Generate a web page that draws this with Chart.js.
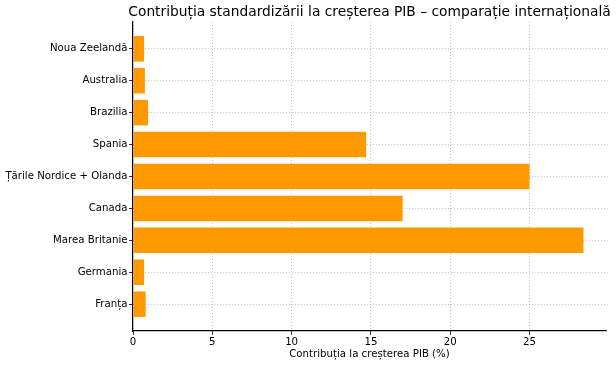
<!DOCTYPE html>
<html>
<head>
<meta charset="utf-8">
<script src="https://cdn.jsdelivr.net/npm/chart.js@4.4.1/dist/chart.umd.min.js"></script>
<style>
  html, body { margin: 0; padding: 0; background: #fff; }
  #wrap { width: 616px; height: 365px; }
</style>
</head>
<body>
<div id="wrap"><canvas id="chart" width="616" height="365"></canvas></div>
<script>
// Données (de bas en haut, comme dans barh)
const tari = ['Franța', 'Germania', 'Marea Britanie', 'Canada', 'Țările Nordice + Olanda', 'Spania', 'Brazilia', 'Australia', 'Noua Zeelandă'];
const contributii = [0.8, 0.7, 28.4, 17.0, 25.0, 14.7, 0.95, 0.75, 0.7];
const xTicks = [0, 5, 10, 15, 20, 25];

const titlu = 'Contribuția standardizării la creșterea PIB – comparație internațională';
const titluAx = 'Contribuția la creșterea PIB (%)';
const FONT = 'DejaVu Sans';
const FS = 10.2;

// titre centré sur la zone du graphique (comme matplotlib)
const titlePlugin = {
    id: 'axTitle',
    afterDraw(chart) {
        const { ctx, chartArea } = chart;
        ctx.save();
        ctx.font = '13.8px "' + FONT + '"';
        ctx.fillStyle = '#000';
        ctx.textAlign = 'center';
        ctx.textBaseline = 'middle';
        ctx.fillText(titlu, (chartArea.left + chartArea.right) / 2, 12);
        ctx.restore();
    }
};

const grila = { color: 'rgba(160,160,160,0.8)', tickColor: '#000', tickLength: 4, lineWidth: 0.8, offset: false };
const bordura = { color: '#000', width: 1.2, dash: [1, 2] };

const ctx = document.getElementById('chart').getContext('2d');
new Chart(ctx, {
    type: 'bar',
    data: {
        datasets: [{
            data: contributii.map((v, i) => ({ x: v, y: i })),
            backgroundColor: '#ff9900',
            borderWidth: 0,
            categoryPercentage: 1,
            barPercentage: 0.8
        }]
    },
    options: {
        indexAxis: 'y',
        responsive: false,
        animation: false,
        layout: { padding: { top: 22, right: 10, left: 0, bottom: 0 } },
        plugins: { legend: { display: false }, tooltip: { enabled: false } },
        scales: {
            x: {
                type: 'linear',
                z: 1,
                offset: false,
                min: 0,
                max: Math.max(...contributii) * 1.05,
                afterBuildTicks: s => { s.ticks = xTicks.map(v => ({ value: v })); },
                afterFit: s => { s.height = 34; },
                grid: grila,
                border: bordura,
                ticks: { color: '#000', padding: 1, font: { family: FONT, size: FS }, maxRotation: 0 },
                title: { display: true, text: titluAx, color: '#000', font: { family: FONT, size: FS }, padding: { top: 0, bottom: 5 } }
            },
            y: {
                type: 'linear',
                z: 1,
                offset: false,
                min: -0.84,
                max: tari.length - 1 + 0.84,
                afterBuildTicks: s => { s.ticks = tari.map((t, i) => ({ value: i })); },
                afterFit: s => { s.width = 133; },
                grid: grila,
                border: bordura,
                ticks: {
                    color: '#000', padding: 1.5, font: { family: FONT, size: FS },
                    callback: v => tari[v] || ''
                }
            }
        }
    },
    plugins: [titlePlugin]
});
</script>
</body>
</html>
